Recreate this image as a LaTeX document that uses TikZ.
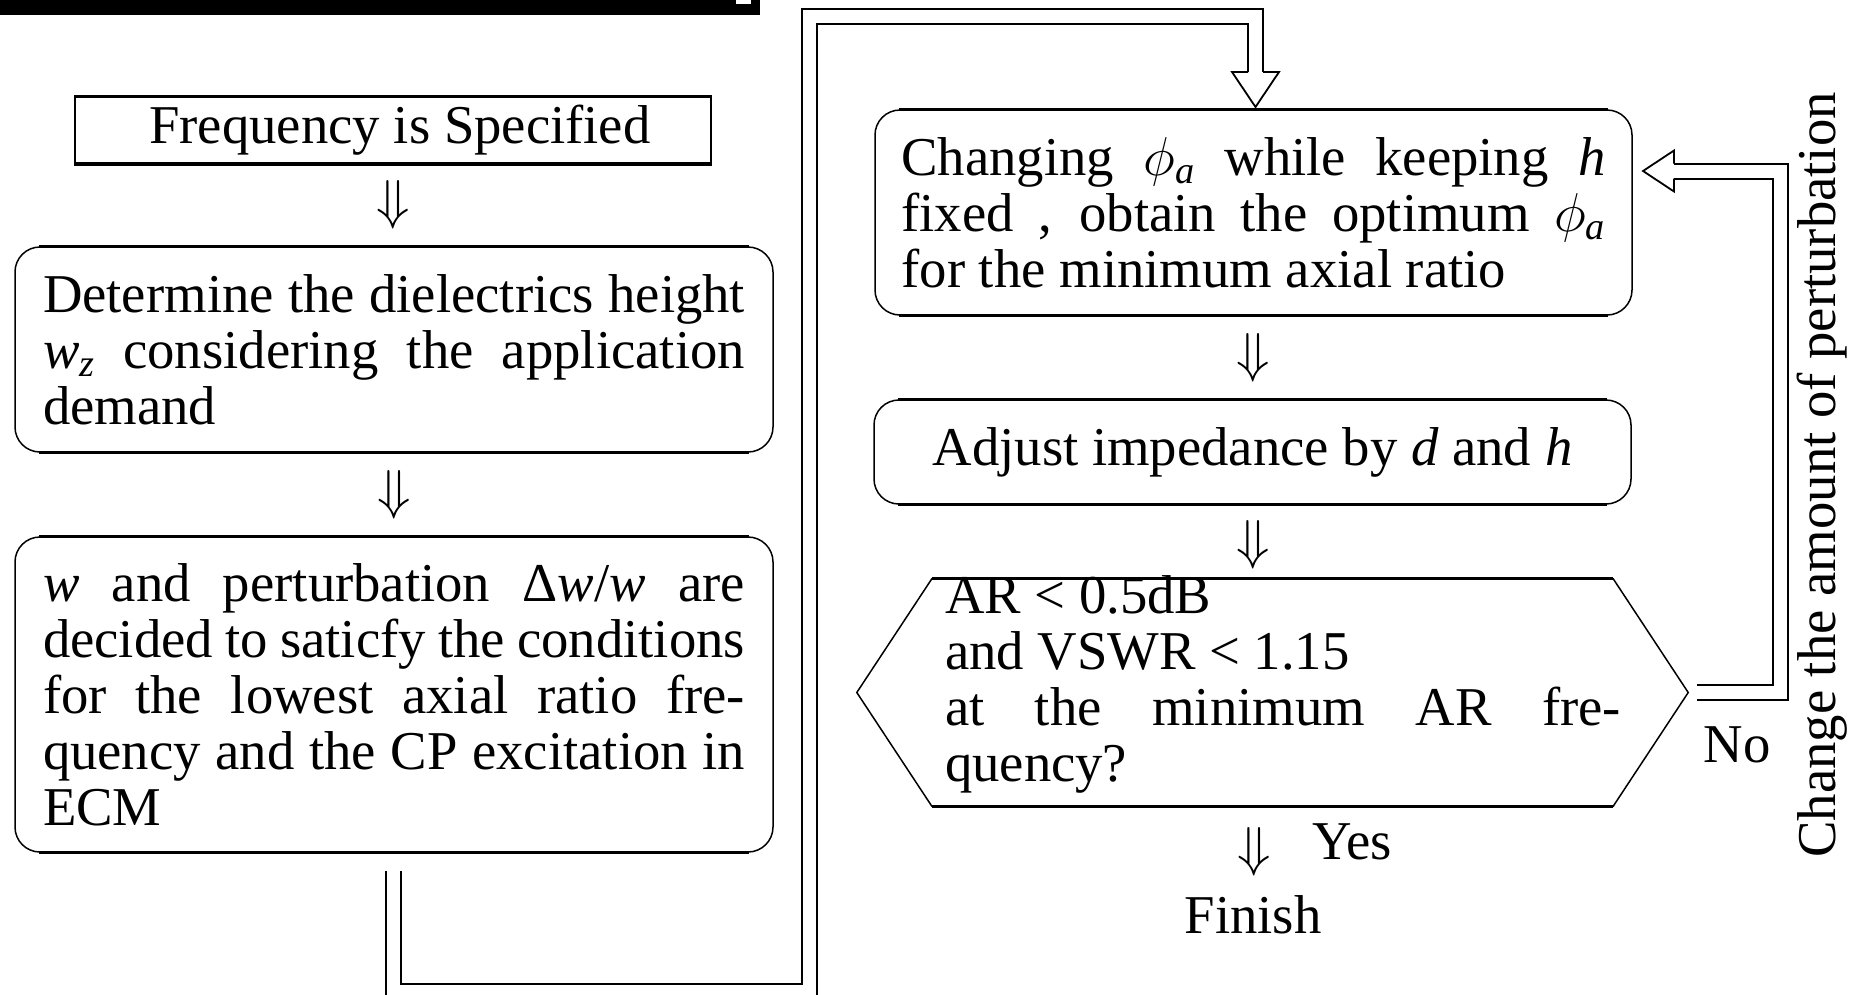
\RequirePackage{fix-cm}
\documentclass[tikz,border=0pt]{standalone}
\usepackage{fontspec}
\setmainfont{Liberation Serif}
\usetikzlibrary{calc}
\newcommand\jline[2]{\makebox[#1][s]{#2}}
\newcommand\vi[1]{\textit{#1}}
\newcommand\vsub[2]{#1\textsubscript{\textit{#2}}}
\begin{document}
\begin{tikzpicture}[x=1pt,y=-1pt,
  every node/.style={inner sep=0pt,font=\fontsize{54.7pt}{56pt}\selectfont},
  rbox/.style={draw,line width=1.5pt,rounded corners=25pt,align=left},
  pbox/.style={draw,line width=2pt,align=center},
  hedge/.style={line width=3pt},
  dbl/.style={double,line width=2pt,double distance=13pt},
  headst/.style={line width=1.8pt,line join=miter}]
\useasboundingbox (0,0) rectangle (1865,994);
% top bar
\fill (0,0) rectangle (760,15);
\fill[white] (736,0) rectangle (751,3.5);
% boxes
\node[pbox,minimum width=636pt,minimum height=66pt] (f1) at (393,130) {\hspace*{14pt}Frequency is Specified};
\node[rbox,minimum width=758pt,minimum height=205pt] (b2) at (394,349.5)
  {\jline{702pt}{Determine the dielectrics height}\\
   \jline{702pt}{\vsub{\vi{w}}{z} considering the application}\\
   demand};
\node[rbox,minimum width=758pt,minimum height=315pt] (b3) at (394,694.5)
  {\jline{702pt}{\vi{w} and perturbation Δ\vi{w}/\vi{w} are}\\
   \jline{702pt}{decided to saticfy the conditions}\\
   \jline{702pt}{for the lowest axial ratio fre-}\\
   \jline{702pt}{quency and the CP excitation in}\\
   ECM};
\node[rbox,minimum width=757pt,minimum height=205pt] (b4) at (1253.5,212.5)
  {\jline{704pt}{Changing \vsub{$\phi$}{a} while keeping \vi{h}}\\
   \jline{704pt}{fixed , obtain the optimum \vsub{$\phi$}{a}}\\
   for the minimum axial ratio};
\node[rbox,minimum width=757pt,minimum height=104pt] (b5) at (1252.5,452)
  {Adjust impedance by \vi{d} and \vi{h}};
\node[minimum width=831pt,minimum height=227pt] (dec) at (1272.5,692.5) {};
\node[align=left] (dect) at (1283,684)
  {AR < 0.5dB\\
   and VSWR < 1.15\\
   \jline{676pt}{at the minimum AR fre-}\\
   quency?};
% thick top/bottom edges
\foreach \n in {b2,b3,b4,b5}{
  \draw[hedge] ([xshift=25pt]\n.north west) -- ([xshift=-25pt]\n.north east);
  \draw[hedge] ([xshift=25pt]\n.south west) -- ([xshift=-25pt]\n.south east);
}
\draw[hedge] (f1.north west) -- (f1.north east);
\draw[hedge] (f1.south west) -- (f1.south east);
% decision hexagon
\draw[line width=1.5pt,line join=miter] (dec.west) -- ([xshift=75pt]dec.north west) -- ([xshift=-75pt]dec.north east)
  -- (dec.east) -- ([xshift=-75pt]dec.south east) -- ([xshift=75pt]dec.south west) -- cycle;
\draw[hedge] ([xshift=75pt]dec.north west) -- ([xshift=-75pt]dec.north east);
\draw[hedge] ([xshift=75pt]dec.south west) -- ([xshift=-75pt]dec.south east);
% down arrows
\node (a1) at ($(f1.south)!0.5!(b2.north)$) {$\Downarrow$};
\node (a2) at ($(b2.south)!0.5!(b3.north)$) {$\Downarrow$};
\node (a3) at ($(b4.south)!0.5!(b5.north)$) {$\Downarrow$};
\node (a4) at (1253,545) {$\Downarrow$};
\node (a5) at (1254,852) {$\Downarrow$};
\node (yes) at (1352,842) {Yes};
\node (fin) at (1253,915) {Finish};
\node (no) at (1737,745) {No};
\node[rotate=90] (chg) at (1822,475) {Change the amount of perturbation};
% double connectors
\coordinate (s1) at (393.5,871);
\coordinate (t1) at (1255.5,72);
\draw[dbl] (s1) -- (393.5,991.5) -- (809.5,991.5) -- (809.5,16) -- (1255.5,16) -- (t1);
\draw[headst] ([xshift=-7.5pt]t1) -- ([xshift=-23.5pt]t1) -- ([yshift=-35pt]t1)
  -- ([xshift=23.5pt]t1) -- ([xshift=7.5pt]t1);
\coordinate (s2) at ([xshift=9pt]dec.east);
\coordinate (t2) at (1674,171);
\draw[dbl] (s2) -- (1780.5,692.5) -- (1780.5,171) -- (t2);
\draw[headst] ([yshift=7.5pt]t2) -- ([yshift=20.5pt]t2) -- ([xshift=-31pt]t2)
  -- ([yshift=-20.5pt]t2) -- ([yshift=-7.5pt]t2);
\end{tikzpicture}
\end{document}
